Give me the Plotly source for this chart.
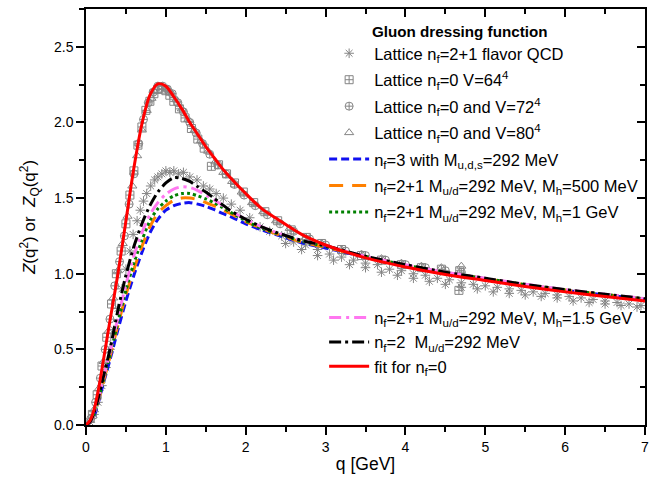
import plotly.graph_objects as go

# ---------------- data ----------------
# Lattice nf=2+1 (asterisks)
q_l21 = [0.05,0.1,0.15,0.2,0.25,0.3,0.35,0.4,0.45,0.5,0.55,0.59,0.64,0.68,0.72,0.76,0.81,0.86,0.9,0.95,1.0,1.05,1.1,1.16,1.22,1.3,1.39,1.47,1.55,1.63,1.72,1.82,1.93,2.05,2.18,2.3,2.45,2.6,2.75,2.9,3.05,3.2,3.35,3.5,3.65,3.8,3.95,4.1,4.25,4.4,4.55,4.7,4.85,5.0,5.15,5.3,5.45,5.6,5.75,5.9,6.05,6.2,6.35,6.5,6.65,6.8,6.95,
         2.5,2.7,2.9,3.1,3.3,3.5,3.7,3.9,4.1,4.3,4.5,4.7,4.9,5.1,5.3,5.5,5.7,5.9,6.1,6.3,6.5,6.7,6.9]
z_l21 = [0.02,0.07,0.15,0.26,0.38,0.50,0.63,0.77,0.90,1.03,1.15,1.26,1.35,1.42,1.48,1.53,1.58,1.62,1.64,1.66,1.68,1.67,1.68,1.66,1.67,1.64,1.62,1.58,1.56,1.53,1.50,1.46,1.42,1.37,1.31,1.28,1.25,1.21,1.19,1.16,1.13,1.11,1.09,1.07,1.06,1.03,1.02,1.00,0.99,0.97,0.96,0.94,0.93,0.92,0.91,0.90,0.89,0.88,0.87,0.86,0.85,0.84,0.83,0.82,0.81,0.80,0.79,
         1.20,1.16,1.12,1.09,1.06,1.04,1.01,0.99,0.97,0.95,0.93,0.91,0.90,0.88,0.87,0.86,0.85,0.84,0.82,0.81,0.80,0.79,0.78]

# Lattice nf=0, V=64^4 (squares)
q_l64 = [0.08,0.14,0.2,0.26,0.32,0.38,0.44,0.5,0.55,0.6,0.65,0.7,0.75,0.8,0.85,0.9,0.95,1.0,1.05,1.1,1.17,1.24,1.32,1.4,1.48,1.57,1.66,1.76,1.86,1.97,2.1,2.24,2.4,2.57,2.76,2.95,3.2,3.45,3.7,3.95,4.2,4.45,4.67,4.68]
z_l64 = [0.07,0.20,0.39,0.58,0.80,1.00,1.15,1.33,1.52,1.68,1.85,1.97,2.08,2.14,2.19,2.22,2.22,2.21,2.18,2.14,2.09,2.03,1.96,1.89,1.83,1.71,1.72,1.66,1.60,1.54,1.47,1.41,1.35,1.29,1.24,1.20,1.16,1.12,1.09,1.06,1.04,1.03,0.89,1.02]

# Lattice nf=0, V=72^4 (circles)
q_l72 = [0.06,0.12,0.18,0.24,0.3,0.36,0.42,0.48,0.54,0.6,0.66,0.72,0.78,0.84,0.9,0.96,1.02,1.08,1.15,1.22,1.3,1.38,1.46,1.55,1.65,1.75,1.86,1.98,2.12,2.27,2.43,2.6,2.8,3.0,3.25,3.5,3.75,4.0,4.25,4.5,4.7]
z_l72 = [0.04,0.15,0.31,0.50,0.70,0.92,1.08,1.25,1.46,1.66,1.86,2.02,2.13,2.20,2.24,2.24,2.22,2.19,2.13,2.07,2.00,1.93,1.86,1.79,1.72,1.66,1.59,1.52,1.45,1.39,1.33,1.28,1.23,1.19,1.15,1.12,1.09,1.06,1.04,1.02,1.01]

# Lattice nf=0, V=80^4 (triangles)
q_l80 = [0.05,0.1,0.16,0.22,0.28,0.34,0.4,0.46,0.52,0.58,0.64,0.7,0.76,0.82,0.88,0.94,1.0,1.06,1.13,1.2,1.28,1.36,1.44,1.53,1.62,1.72,1.83,1.95,2.08,2.22,2.38,2.55,2.75,2.95,3.2,3.45,3.7,3.95,4.2,4.45,4.7]
z_l80 = [0.03,0.10,0.24,0.42,0.62,0.84,1.02,1.20,1.38,1.58,1.78,1.95,2.08,2.16,2.21,2.23,2.22,2.20,2.15,2.09,2.02,1.95,1.88,1.81,1.74,1.67,1.61,1.54,1.47,1.41,1.35,1.30,1.24,1.20,1.16,1.13,1.10,1.07,1.05,1.04,1.05]

# Model curves (common momentum grid)
q_th = [0.0,0.05,0.1,0.15,0.2,0.3,0.4,0.5,0.6,0.7,0.8,0.9,1.0,1.1,1.2,1.3,1.4,1.5,1.6,1.7,1.8,2.0,2.2,2.4,2.7,3.0,3.5,4.0,4.5,5.0,5.5,6.0,6.5,7.0]
z_nf3   = [0.0,0.02,0.06,0.14,0.24,0.43,0.63,0.82,0.99,1.14,1.27,1.36,1.42,1.45,1.465,1.47,1.46,1.445,1.425,1.40,1.38,1.33,1.29,1.255,1.205,1.17,1.11,1.055,1.005,0.965,0.925,0.89,0.86,0.83]
z_mh500 = [0.0,0.02,0.07,0.15,0.25,0.45,0.66,0.86,1.03,1.18,1.31,1.40,1.45,1.485,1.50,1.50,1.49,1.47,1.45,1.425,1.40,1.345,1.30,1.26,1.21,1.175,1.112,1.057,1.007,0.967,0.927,0.892,0.862,0.832]
z_mh1   = [0.0,0.02,0.07,0.15,0.26,0.46,0.68,0.89,1.07,1.22,1.35,1.43,1.48,1.515,1.53,1.53,1.515,1.495,1.47,1.44,1.41,1.35,1.30,1.265,1.215,1.18,1.113,1.058,1.008,0.968,0.928,0.893,0.863,0.833]
z_mh15  = [0.0,0.02,0.07,0.16,0.27,0.48,0.71,0.93,1.12,1.27,1.39,1.47,1.525,1.56,1.575,1.57,1.55,1.52,1.49,1.455,1.42,1.36,1.31,1.27,1.22,1.185,1.115,1.06,1.01,0.97,0.93,0.895,0.865,0.835]
z_nf2   = [0.0,0.02,0.08,0.17,0.28,0.50,0.76,0.99,1.18,1.33,1.45,1.54,1.60,1.635,1.63,1.61,1.575,1.54,1.50,1.46,1.42,1.36,1.31,1.27,1.22,1.185,1.115,1.06,1.01,0.97,0.93,0.895,0.865,0.835]
z_fit0  = [0.0,0.03,0.10,0.22,0.37,0.69,1.00,1.35,1.70,1.99,2.18,2.255,2.24,2.17,2.09,2.00,1.92,1.84,1.77,1.70,1.64,1.53,1.43,1.36,1.26,1.19,1.105,1.045,0.995,0.955,0.915,0.88,0.85,0.82]

FONT = "Arial, Liberation Sans, sans-serif"
GREY = "#858585"

fig = go.Figure()

def lattice(q, z, name, symbol, grp):
    fig.add_trace(go.Scatter(
        x=q, y=z, mode="markers", name=name, legend="legend", legendgroup=grp,
        marker=dict(symbol=symbol, size=8, color=GREY, line=dict(color=GREY, width=1)),
    ))

lattice(q_l21, z_l21, "Lattice n<sub>f</sub>=2+1 flavor QCD", "asterisk-open", "g1")
lattice(q_l64, z_l64, "Lattice n<sub>f</sub>=0 V=64<sup>4</sup>", "square-cross-open", "g2")
lattice(q_l72, z_l72, "Lattice n<sub>f</sub>=0 and V=72<sup>4</sup>", "circle-cross-open", "g3")
lattice(q_l80, z_l80, "Lattice n<sub>f</sub>=0 and V=80<sup>4</sup>", "triangle-up-open", "g4")

def curve(z, name, color, dash, leg, grp, width=3):
    fig.add_trace(go.Scatter(
        x=q_th, y=z, mode="lines", name=name, legend=leg, legendgroup=grp,
        line=dict(color=color, width=width, dash=dash, shape="spline", smoothing=0.8),
    ))

curve(z_nf3, "n<sub>f</sub>=3 with M<sub>u,d,s</sub>=292 MeV", "#1010f0", "8px,4px", "legend", "g5")
curve(z_mh500, "n<sub>f</sub>=2+1 M<sub>u/d</sub>=292 MeV, M<sub>h</sub>=500 MeV", "#ff8000", "14px,9px", "legend", "g6")
curve(z_mh1, "n<sub>f</sub>=2+1 M<sub>u/d</sub>=292 MeV, M<sub>h</sub>=1 GeV", "#008000", "3px,3px", "legend", "g7")
curve(z_mh15, "n<sub>f</sub>=2+1 M<sub>u/d</sub>=292 MeV, M<sub>h</sub>=1.5 GeV", "#ff77f0", "12px,5px,3px,5px", "legend2", "g8")
curve(z_nf2, "n<sub>f</sub>=2  M<sub>u/d</sub>=292 MeV", "#000000", "12px,4px,3px,4px", "legend2", "g9")
curve(z_fit0, "fit for n<sub>f</sub>=0", "#ff0000", "solid", "legend2", "g10")

# helper trace for mirrored (inward) axes on top/right
fig.add_trace(go.Scatter(x=[None], y=[None], xaxis="x2", yaxis="y2",
                         showlegend=False, hoverinfo="skip"))

axis_common = dict(showgrid=False, zeroline=False, showline=True, linecolor="black",
                   linewidth=1.5, tickcolor="black", tickwidth=1.5)

fig.update_layout(
    width=665, height=487,
    margin=dict(l=86, r=20, t=9, b=62),
    paper_bgcolor="white", plot_bgcolor="white",
    font=dict(family=FONT, color="black", size=14),
    xaxis=dict(range=[0, 7], dtick=1, ticks="outside", ticklen=8,
               minor=dict(dtick=0.5, ticks="outside", ticklen=5, tickcolor="black", tickwidth=1.5),
               tickfont=dict(size=14),
               title=dict(text="q [GeV]", font=dict(size=17.5), standoff=4),
               **axis_common),
    yaxis=dict(range=[0, 2.75], dtick=0.5, tickformat=".1f", ticks="outside", ticklen=8,
               minor=dict(dtick=0.25, ticks="outside", ticklen=5, tickcolor="black", tickwidth=1.5),
               tickfont=dict(size=14),
               title=dict(text="<i>Z</i>(q<sup>2</sup>) or  <i>Z</i><sub>Q</sub>(q<sup>2</sup>)",
                          font=dict(size=17), standoff=14),
               **axis_common),
    xaxis2=dict(overlaying="x", side="top", range=[0, 7], dtick=1, ticks="inside", ticklen=8,
                minor=dict(dtick=0.5, ticks="inside", ticklen=5, tickcolor="black", tickwidth=1.5),
                showticklabels=False, **axis_common),
    yaxis2=dict(overlaying="y", side="right", range=[0, 2.75], dtick=0.5, ticks="inside", ticklen=8,
                minor=dict(dtick=0.25, ticks="inside", ticklen=5, tickcolor="black", tickwidth=1.5),
                showticklabels=False, **axis_common),
    legend=dict(x=0.426, y=0.935, xanchor="left", yanchor="top", bgcolor="rgba(0,0,0,0)",
                font=dict(size=16.5, family=FONT), tracegroupgap=2, itemwidth=40),
    legend2=dict(x=0.426, y=0.30, xanchor="left", yanchor="top", bgcolor="rgba(0,0,0,0)",
                 font=dict(size=16.5, family=FONT), tracegroupgap=0, itemwidth=40),
    annotations=[dict(text="<b>Gluon dressing function</b>", xref="paper", yref="paper",
                      x=0.508, y=0.945, xanchor="left", yanchor="middle", showarrow=False,
                      font=dict(size=15.2, family=FONT))],
)

fig.write_html("out.html")
